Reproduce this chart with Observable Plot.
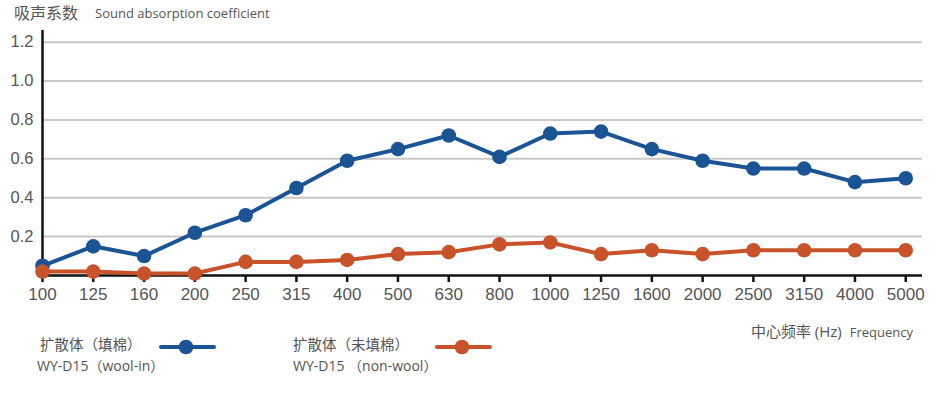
<!DOCTYPE html>
<html>
<head>
<meta charset="utf-8">
<script src="https://cdn.jsdelivr.net/npm/d3@7"></script>
<script src="https://cdn.jsdelivr.net/npm/@observablehq/plot@0.6"></script>
<style>
  html, body { margin: 0; padding: 0; background: #fff; }
  #wrap { position: relative; width: 937px; height: 395px; overflow: hidden; font-family: "Open Sans", "Noto Sans CJK SC", sans-serif; color: #555; }
  #chart { position: absolute; left: 0; top: 0; }
  .abs { position: absolute; white-space: nowrap; line-height: 1; }
  .cjk { font-family: "Noto Sans CJK SC", sans-serif; }
</style>
</head>
<body>
<div id="wrap">
  <div class="abs" style="left:14px; top:4px; font-size:16px;"><span class="cjk">吸声系数</span><span style="font-size:13px; margin-left:17px; position:relative; top:-1px;">Sound absorption coefficient</span></div>
  <div id="chart"></div>
  <div class="abs" style="right:24px; top:323px; font-size:15px;"><span class="cjk">中心频率</span> (Hz)<span style="font-size:13px; margin-left:8px;">Frequency</span></div>
  <div id="legend"></div>
</div>
<script>
const freqLabels = ["100","125","160","200","250","315","400","500","630","800","1000","1250","1600","2000","2500","3150","4000","5000"];
const woolIn  = [0.05,0.15,0.10,0.22,0.31,0.45,0.59,0.65,0.72,0.61,0.73,0.74,0.65,0.59,0.55,0.55,0.48,0.50];
const nonWool = [0.02,0.02,0.01,0.01,0.07,0.07,0.08,0.11,0.12,0.16,0.17,0.11,0.13,0.11,0.13,0.13,0.13,0.13];
const yTicks = [0.2,0.4,0.6,0.8,1.0,1.2];
const seriesNames = ["扩散体（填棉）","扩散体（未填棉）"];
const seriesSub = ["WY-D15（wool-in）","WY-D15 （non-wool）"];
const seriesColors = ["#1b5494","#c8532b"];

const idx = freqLabels.map((_, i) => i);
const dataBlue = idx.map(i => ({i, v: woolIn[i], s: seriesNames[0]}));
const dataOrange = idx.map(i => ({i, v: nonWool[i], s: seriesNames[1]}));

const plot = Plot.plot({
  width: 937,
  height: 312,
  marginLeft: 42,
  marginRight: 15,
  marginTop: 30,
  marginBottom: 37,
  style: {fontFamily: "'Liberation Sans', Arial, sans-serif", background: "transparent"},
  x: {type: "linear", domain: [0, 17.33]},
  y: {domain: [0, 1.26]},
  color: {domain: seriesNames, range: seriesColors},
  marks: [
    Plot.ruleY(yTicks, {stroke: "#c8c8c8", strokeWidth: 2}),
    Plot.axisY({ticks: yTicks, tickSize: 0, tickPadding: 9, tickFormat: d => d.toFixed(1), fontSize: 16.5, fill: "#555", label: null}),
    Plot.axisX({ticks: idx, tickFormat: i => freqLabels[i], tickSize: 7, tickPadding: 5, fontSize: 17, stroke: "#111", strokeWidth: 2.5, fill: "#555", label: null}),
    Plot.ruleY([0], {stroke: "#111", strokeWidth: 2.5}),
    Plot.ruleX([0], {stroke: "#111", strokeWidth: 2.5}),
    Plot.line(dataBlue, {x: "i", y: "v", stroke: "s", strokeWidth: 4}),
    Plot.dot(dataBlue, {x: "i", y: "v", fill: "s", r: 7.3}),
    Plot.line(dataOrange, {x: "i", y: "v", stroke: "s", strokeWidth: 4}),
    Plot.dot(dataOrange, {x: "i", y: "v", fill: "s", r: 7.3})
  ]
});
document.getElementById("chart").appendChild(plot);

const legendPos = [{left: 40, sub: 37, sw: 159}, {left: 293, sub: 293, sw: 435}];
const legend = document.getElementById("legend");
seriesNames.forEach((name, k) => {
  const p = legendPos[k];
  legend.insertAdjacentHTML("beforeend",
    `<div class="abs cjk" style="left:${p.left}px; top:337px; font-size:14.5px;">${name}</div>` +
    `<div class="abs" style="left:${p.sub}px; top:359px; font-size:14px;">${seriesSub[k]}</div>` +
    `<svg class="abs" style="left:${p.sw}px; top:337px;" width="58" height="20"><line x1="2" x2="55" y1="10" y2="10" stroke="${seriesColors[k]}" stroke-width="4" stroke-linecap="round"/><circle cx="27" cy="10" r="7.3" fill="${seriesColors[k]}"/></svg>`);
});
</script>
</body>
</html>
